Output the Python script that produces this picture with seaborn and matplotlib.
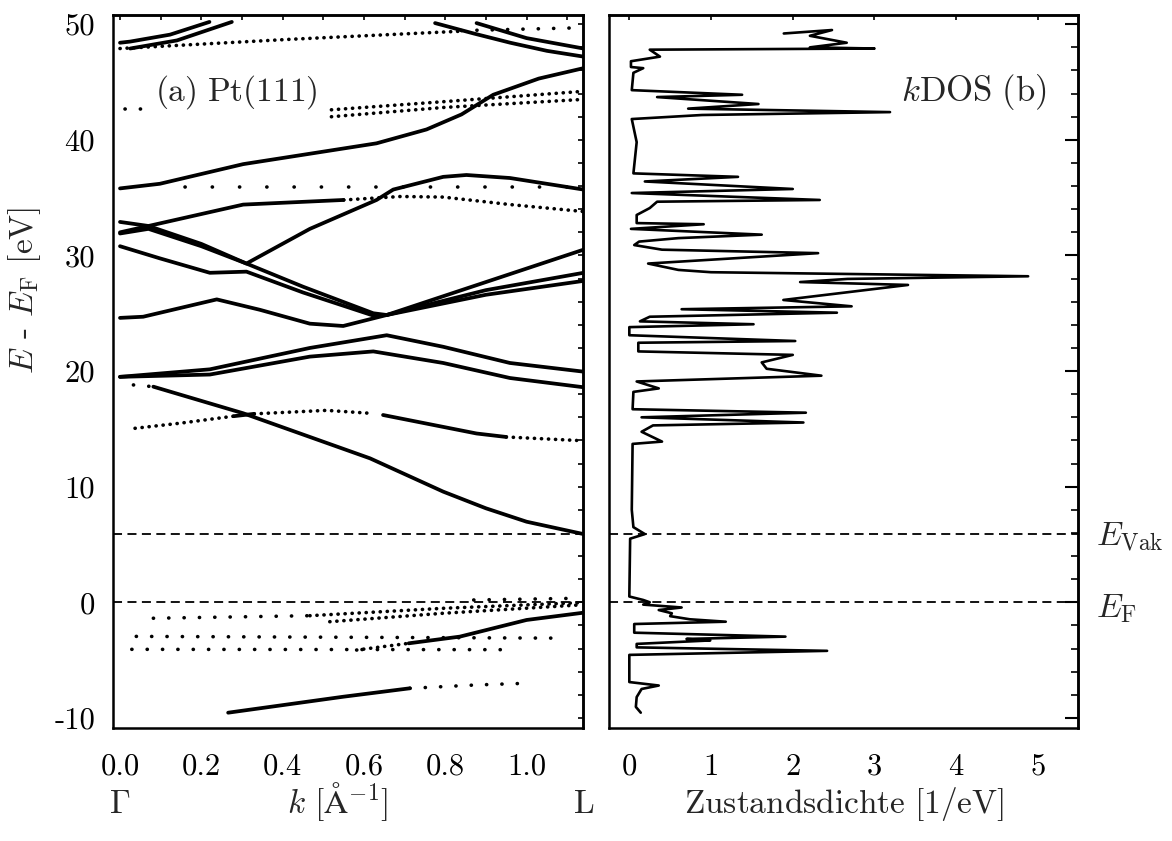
"""Band structure of Pt(111) along Gamma-L with the k-resolved DOS next to it."""

import matplotlib

matplotlib.use("Agg")
import matplotlib.pyplot as plt
import matplotlib.transforms as mtransforms
import seaborn as sns
from matplotlib.ticker import (FormatStrFormatter, MultipleLocator, NullFormatter,
                               NullLocator)

# ---------------------------------------------------------------- band data
# k in 1/Angstrom, E - E_F in eV
top_a_k = [0.0, 0.025, 0.123, 0.22]
top_a_e = [48.4, 48.5, 49.1, 50.2]
top_b_k = [0.025, 0.14, 0.275]
top_b_e = [47.9, 48.6, 50.2]
long48_k = [0.0, 0.42, 0.84]
long48_e = [47.9, 48.7, 49.4]
long48_tail_k = [0.84, 1.14]
long48_tail_e = [49.45, 49.7]
top_c_k = [0.775, 0.87, 0.96, 1.05, 1.14]
top_c_e = [50.1, 49.2, 48.4, 47.7, 47.2]
top_d_k = [0.877, 1.0, 1.14]
top_d_e = [50.1, 48.8, 47.9]
e43_k = [0.012, 0.057]
e43_e = [42.7, 42.7]
p1_k = [0.52, 0.795, 1.14]
p1_e = [42.6, 43.3, 44.2]
p2_k = [0.52, 0.795, 1.14]
p2_e = [42.0, 42.8, 43.5]
s36_k = [0.0, 0.098, 0.303, 0.631, 0.754, 0.84, 0.918, 1.03, 1.14]
s36_e = [35.8, 36.2, 37.9, 39.7, 40.9, 42.2, 43.9, 45.3, 46.2]
row36_k = [0.16, 1.1]
row36_e = [35.9, 35.9]
b1_k = [0.0, 0.07, 0.303, 0.55]
b1_e = [32.0, 32.55, 34.4, 34.8]
b1_tail_k = [0.55, 0.69, 0.795, 0.96, 1.14]
b1_tail_e = [34.8, 35.1, 35.05, 34.4, 33.8]
b4_k = [0.0, 0.07, 0.2, 0.311, 0.45, 0.623, 0.656, 0.9, 1.14]
b4_e = [32.9, 32.55, 31.0, 29.3, 27.3, 25.0, 24.85, 27.7, 30.5]
b5_k = [0.0, 0.07, 0.2, 0.311, 0.467, 0.631, 0.672, 0.795, 0.852, 0.959, 1.14]
b5_e = [31.9, 32.3, 30.8, 29.3, 32.3, 34.8, 35.7, 36.8, 36.96, 36.7, 35.7]
b6_k = [0.0, 0.098, 0.221, 0.311, 0.45, 0.623, 0.656, 0.9, 1.14]
b6_e = [30.8, 29.75, 28.5, 28.6, 26.8, 24.8, 24.85, 27.0, 28.5]
b7_k = [0.0, 0.057, 0.238, 0.344, 0.467, 0.549, 0.656, 0.9, 1.14]
b7_e = [24.6, 24.7, 26.2, 25.3, 24.1, 23.9, 24.85, 26.6, 27.8]
b8_k = [0.0, 0.221, 0.467, 0.656, 0.795, 0.959, 1.14]
b8_e = [19.5, 20.15, 22.0, 23.1, 22.1, 20.7, 19.95]
b9_k = [0.0, 0.221, 0.467, 0.623, 0.795, 0.959, 1.14]
b9_e = [19.5, 19.7, 21.25, 21.7, 20.7, 19.4, 18.6]
b10_head_k = [0.033, 0.082]
b10_head_e = [18.8, 18.65]
b10_k = [0.082, 0.303, 0.615, 0.795, 0.9, 1.0, 1.14]
b10_e = [18.65, 16.35, 12.45, 9.57, 8.13, 6.97, 5.9]
b11_a_k = [0.037, 0.15, 0.28]
b11_a_e = [15.05, 15.5, 16.1]
b11_b_k = [0.28, 0.33]
b11_b_e = [16.1, 16.3]
b11_c_k = [0.33, 0.508, 0.615]
b11_c_e = [16.3, 16.6, 16.35]
b11_d_k = [0.647, 0.877, 0.95]
b11_d_e = [16.2, 14.6, 14.3]
b11_e_k = [0.95, 1.123]
b11_e_e = [14.3, 14.0]
low_k = [0.266, 0.549, 0.713]
low_e = [-9.55, -8.17, -7.44]
low_tail_k = [0.713, 0.877, 1.004]
low_tail_e = [-7.44, -7.15, -7.0]
m4_head_k = [0.582, 0.71]
m4_head_e = [-4.13, -3.55]
m4_k = [0.71, 0.836, 1.0, 1.14]
m4_e = [-3.55, -2.97, -1.53, -0.9]
f1_head_k = [0.082, 0.467]
f1_head_e = [-1.38, -1.16]
f1_k = [0.467, 0.795, 1.135]
f1_e = [-1.16, -0.52, -0.03]
f2_k = [0.516, 0.795, 1.131]
f2_e = [-1.68, -0.95, -0.23]
f3_k = [0.87, 1.13]
f3_e = [0.2, 0.35]
row_m3_k = [0.04, 1.07]
row_m3_e = [-2.95, -3.1]
row_m4_k = [0.029, 0.97]
row_m4_e = [-4.07, -4.1]

# ----------------------------------------------------------------- DOS data
dos_e = [49.2, 49.5, 49.0, 48.4, 48.0, 47.9, 47.8, 47.2, 46.8, 46.3, 46.2, 45.8,
         44.3, 43.9, 43.7, 43.1, 42.7, 42.4, 42.15, 41.8, 39.8, 37.1, 36.8, 36.4,
         35.75, 35.4, 34.8, 34.65, 34.1, 33.5, 32.8, 32.7, 32.3, 31.8, 31.5, 31.2,
         30.9, 30.5, 30.2, 29.3, 28.75, 28.55, 28.2, 27.97, 27.7, 27.45, 26.15,
         25.6, 25.35, 25.05, 24.7, 24.3, 24.05, 23.8, 23.1, 22.6, 22.45, 21.7, 21.4,
         20.75, 20.2, 19.6, 19.1, 18.5, 18.2, 16.7, 16.4, 16.0, 15.55, 15.3, 14.75,
         13.9, 13.7, 8.0, 6.5, 5.9, 5.5, 0.5, 0.2, 0.0, -0.2, -0.45, -0.67, -0.95,
         -1.2, -1.47, -1.68, -1.88, -2.63, -2.97, -3.17, -3.3, -3.6, -3.9, -4.2,
         -4.55, -6.9, -7.2, -7.5, -8.2, -9.05, -9.55]
dos_val = [1.89, 2.48, 2.21, 2.66, 2.21, 3.0, 0.25, 0.375, 0.02, 0.02, 0.17, 0.05,
           0.03, 1.38, 0.34, 1.58, 0.72, 3.19, 0.89, 0.03, 0.09, 0.05, 1.33, 0.19,
           2.0, 0.03, 2.33, 0.34, 0.25, 0.09, 0.09, 0.91, 0.02, 1.62, 0.6, 0.12,
           0.06, 0.4, 2.31, 0.23, 0.6, 1.0, 4.88, 2.67, 2.09, 3.41, 1.885,
           2.72, 0.64, 2.54, 0.25, 0.13, 1.52, 0.0, 0.0, 2.03, 0.11, 0.11, 2.0,
           1.62, 1.68, 2.35, 0.09, 0.36, 0.05, 0.04, 2.16, 0.15, 2.13, 0.29, 0.15,
           0.40, 0.04, 0.03, 0.05, 0.19, 0.01, 0.0, 0.17, 0.25, 0.17, 0.64, 0.36, 0.52,
           0.5, 0.74, 1.18, 0.06, 0.06, 1.91, 0.70, 0.99, 0.09, 0.09, 2.42,
           0.0, 0.0, 0.36, 0.15, 0.09, 0.08, 0.14]

e_fermi = 0.0
e_vac = 5.9

bands = [
    (top_a_k, top_a_e, "solid"), (top_b_k, top_b_e, "solid"),
    (long48_k, long48_e, "dense"), (long48_tail_k, long48_tail_e, "sparse"),
    (top_c_k, top_c_e, "solid"), (top_d_k, top_d_e, "solid"),
    (e43_k, e43_e, "sparse"), (p1_k, p1_e, "dense"), (p2_k, p2_e, "dense"),
    (s36_k, s36_e, "solid"), (row36_k, row36_e, "wide"),
    (b1_k, b1_e, "solid"), (b1_tail_k, b1_tail_e, "dense"),
    (b4_k, b4_e, "solid"), (b5_k, b5_e, "solid"), (b6_k, b6_e, "solid"),
    (b7_k, b7_e, "solid"), (b8_k, b8_e, "solid"), (b9_k, b9_e, "solid"),
    (b10_head_k, b10_head_e, "sparse"), (b10_k, b10_e, "solid"),
    (b11_a_k, b11_a_e, "dense"), (b11_b_k, b11_b_e, "solid"),
    (b11_c_k, b11_c_e, "dense"), (b11_d_k, b11_d_e, "solid"),
    (b11_e_k, b11_e_e, "dense"),
    (low_k, low_e, "solid"), (low_tail_k, low_tail_e, "sparse"),
    (m4_head_k, m4_head_e, "dense"), (m4_k, m4_e, "solid"),
    (f1_head_k, f1_head_e, "sparse"), (f1_k, f1_e, "dense"), (f2_k, f2_e, "dense"),
    (f3_k, f3_e, "sparse"), (row_m3_k, row_m3_e, "sparse"),
    (row_m4_k, row_m4_e, "sparse"),
]

sns.set_theme(style="white")
plt.rcParams.update({
    "font.family": "cmr10",
    "mathtext.fontset": "cm",
    "axes.unicode_minus": False,
    "axes.formatter.use_mathtext": False,
    "axes.edgecolor": "black",
    "axes.linewidth": 1.8,
    "xtick.color": "black",
    "ytick.color": "black",
})

FS_TICK = 22
FS_TEXT = 24
DOT_GAP = {"dense": 1.9, "sparse": 4.2, "wide": 7.5}


def draw_band(ax, k, e, style):
    """Solid bands are dense point clouds in the original, the others are dot rows."""
    if style == "solid":
        sns.lineplot(x=k, y=e, ax=ax, color="black", lw=2.7, sort=False,
                     estimator=None, solid_capstyle="round")
    else:
        ax.plot(k, e, color="black", lw=2.6,
                linestyle=(0, (0.05, DOT_GAP[style])), dash_capstyle="round")


fig = plt.figure(figsize=(11.72, 8.41), dpi=100)
ax1 = fig.add_axes([0.09667, 0.13401, 0.40119, 0.84816])
ax2 = fig.add_axes([0.51988, 0.13401, 0.39991, 0.84816])

ylim = (-10.9, 50.8)
label_y = -0.119

# ------------------------------------------------------------- left panel
for k, e, style in bands:
    draw_band(ax1, k, e, style)
for level in (e_fermi, e_vac):
    ax1.axhline(level, color="black", lw=1.3, linestyle=(0, (5, 3)))

ax1.set_xlim(-0.0165, 1.14)
ax1.set_ylim(*ylim)
ax1.xaxis.set_major_locator(MultipleLocator(0.2))
ax1.xaxis.set_minor_locator(MultipleLocator(0.1))
ax1.yaxis.set_major_locator(MultipleLocator(10))
ax1.yaxis.set_minor_locator(MultipleLocator(2))
ax1.tick_params(axis="both", which="both", direction="in", top=False, right=False,
                labelsize=FS_TICK)
ax1.tick_params(axis="x", which="major", length=8.6, width=1.5, pad=18)
ax1.tick_params(axis="x", which="minor", length=3.5, width=1.2)
ax1.tick_params(axis="y", which="major", length=12, width=1.5, pad=13)
ax1.tick_params(axis="y", which="minor", length=8.6, width=1.2)
ax1.xaxis.set_major_formatter(FormatStrFormatter("%.1f"))

sec_top = ax1.secondary_xaxis("top")
sec_top.xaxis.set_major_locator(MultipleLocator(0.1))
sec_top.xaxis.set_major_formatter(NullFormatter())
sec_top.tick_params(direction="in", length=3.5, width=1.2)
sec_right = ax1.secondary_yaxis("right")
sec_right.yaxis.set_major_locator(MultipleLocator(2))
sec_right.yaxis.set_major_formatter(NullFormatter())
sec_right.tick_params(direction="in", length=3.5, width=1.2)

ax1.set_xlabel("")
ax1.set_ylabel("")
ax1.text(0.0887, 0.892, r"$\mathrm{(a)\ Pt(111)}$", transform=ax1.transAxes,
         fontsize=FS_TEXT, ha="left", va="center")

lower = mtransforms.blended_transform_factory(ax1.transData, ax1.transAxes)
ax1.text(0.0, label_y, r"$\Gamma$", transform=lower, fontsize=FS_TEXT,
         ha="center", va="baseline")
ax1.text(1.14, label_y, r"$\mathrm{L}$", transform=lower, fontsize=FS_TEXT,
         ha="center", va="baseline")
ax1.text(0.476, label_y, r"$k\ [\mathrm{\AA}^{-1}]$", transform=ax1.transAxes,
         fontsize=FS_TEXT, ha="center", va="baseline")
fig.text(25 / 1172, 1 - 290 / 841, r"$E$ - $E_{\mathrm{F}}$ [eV]",
         rotation=90, fontsize=FS_TEXT, ha="center", va="center")

# ------------------------------------------------------------ right panel
sns.lineplot(x=dos_val, y=dos_e, ax=ax2, color="black", lw=1.9, sort=False,
             estimator=None, orient="y")
for level in (e_fermi, e_vac):
    ax2.axhline(level, color="black", lw=1.3, linestyle=(0, (5, 3)))

ax2.set_xlim(-0.245, 5.49)
ax2.set_ylim(*ylim)
ax2.xaxis.set_major_locator(MultipleLocator(1))
ax2.xaxis.set_minor_locator(NullLocator())
ax2.yaxis.set_major_locator(MultipleLocator(2))
ax2.yaxis.set_minor_locator(NullLocator())
ax2.tick_params(axis="both", which="both", direction="in", top=False, right=False,
                labelsize=FS_TICK, labelleft=False)
ax2.tick_params(axis="x", which="major", length=8.6, width=1.5, pad=18)
ax2.tick_params(axis="y", which="major", length=2.5, width=1.2)

sec_top2 = ax2.secondary_xaxis("top")
sec_top2.xaxis.set_major_locator(MultipleLocator(1))
sec_top2.xaxis.set_major_formatter(NullFormatter())
sec_top2.tick_params(direction="in", length=3.5, width=1.2)
sec_right2 = ax2.secondary_yaxis("right")
sec_right2.yaxis.set_major_locator(MultipleLocator(10))
sec_right2.yaxis.set_minor_locator(MultipleLocator(2))
sec_right2.yaxis.set_major_formatter(NullFormatter())
sec_right2.tick_params(which="major", direction="in", length=9.4, width=1.5)
sec_right2.tick_params(which="minor", direction="in", length=5, width=1.2)

ax2.set_xlabel("")
ax2.set_ylabel("")
ax2.text(0.934, 0.892, r"$k\mathrm{DOS\ (b)}$", transform=ax2.transAxes,
         fontsize=25, ha="right", va="center")
ax2.text(0.5, label_y, r"$\mathrm{Zustandsdichte\ [1/eV]}$", transform=ax2.transAxes,
         fontsize=FS_TEXT, ha="center", va="baseline")

side = mtransforms.blended_transform_factory(ax2.transAxes, ax2.transData)
ax2.text(1.038, e_vac - 0.9, r"$E_{\mathrm{Vak}}$", transform=side,
         fontsize=FS_TEXT, ha="left", va="baseline")
ax2.text(1.038, e_fermi - 1.3, r"$E_{\mathrm{F}}$", transform=side,
         fontsize=FS_TEXT, ha="left", va="baseline")

for ax in (ax1, ax2):
    for spine in ax.spines.values():
        spine.set_linewidth(1.8)

fig.savefig("out.png", dpi=100)
plt.close(fig)
